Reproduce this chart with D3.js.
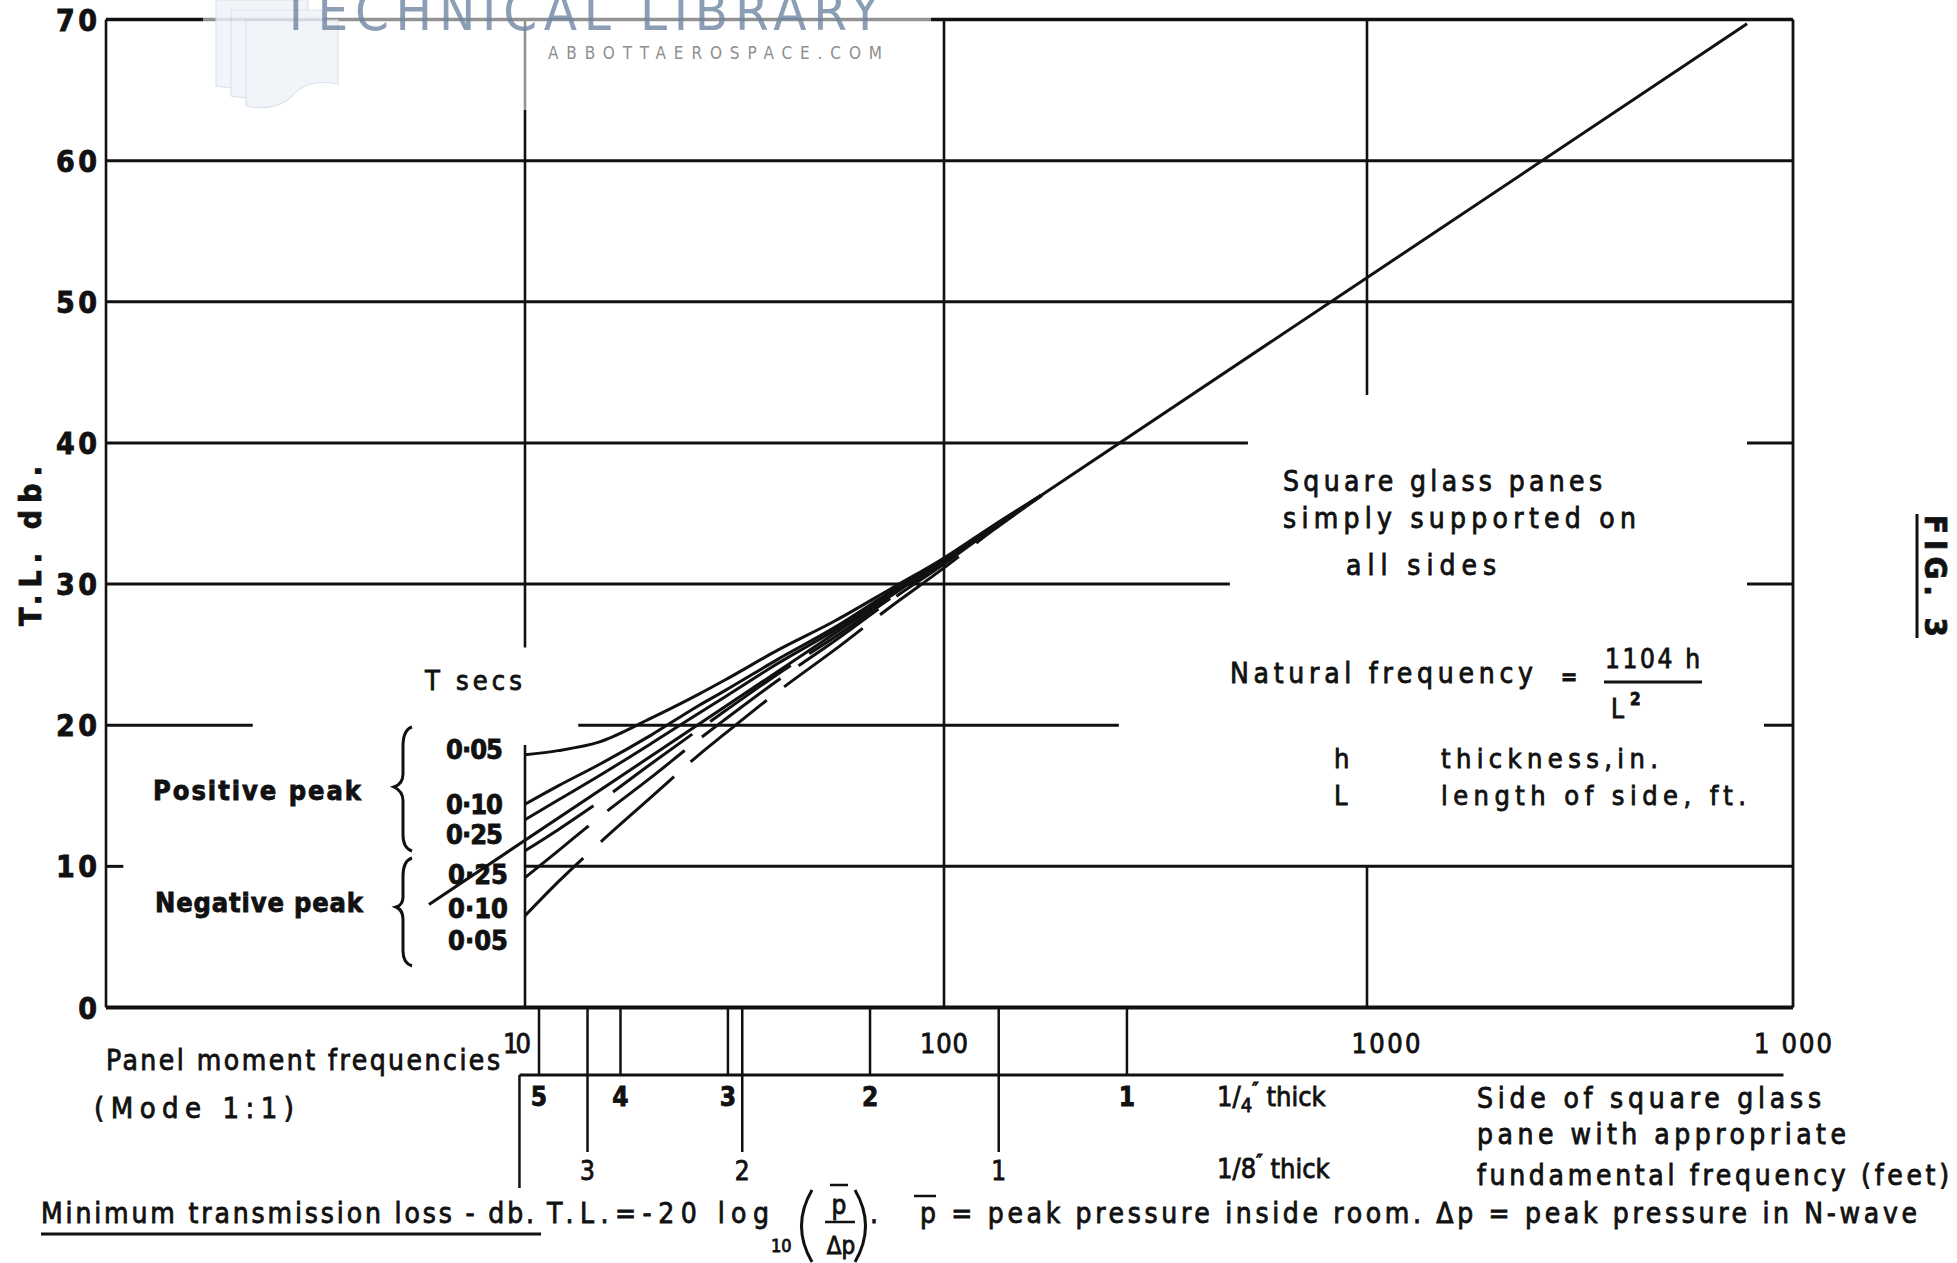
<!DOCTYPE html>
<html><head><meta charset="utf-8">
<script src="https://cdn.jsdelivr.net/npm/d3@7"></script>
<style>
body{margin:0;background:#fff}
svg{display:block}
text{font-family:"DejaVu Sans Condensed","DejaVu Sans",sans-serif;fill:#111}
text.ink{stroke:#111;stroke-width:0.8px}
</style>
</head><body>
<svg id="c" width="1957" height="1263"></svg>
<script>
// ---------------- data ----------------
const yTicks=[0,10,20,30,40,50,60,70];
const yTickLabels=["0","10","20","30","40","50","60","70"];
const xDecades=[1,10,100,1000,10000];
const xTickValues=[10,100,1000,10000];
const xTickLabels=["10","100","1000","1 000"];

// main asymptote line (frequency, T.L. db)
const mainFreq=[5.9,7800];
const mainTL=[7.3,69.7];

// T secs curves (frequency, T.L. db)
const curveFreq=[10,12,15,20,26,30,40,55,75,100,130,170];
const posPeak005=[17.9,18.2,18.8,20.5,22.2,23.2,25.3,27.4,29.7,31.85,34.1,36.3];
const posPeak010=[14.4,15.7,17.2,19.3,21.4,22.45,24.65,26.95,29.5,31.75,34.05,36.3];
const posPeak025=[13.3,14.7,16.4,18.7,20.85,22.0,24.35,26.75,29.35,31.65,34.0,36.3];
const negPeak025=[11.1,12.6,14.55,17.27,19.7,21.0,23.6,26.27,29.05,31.52,33.94,36.3];
const negPeak010=[9.2,11.1,13.45,16.3,19.0,20.4,23.15,26.0,28.9,31.42,33.9,36.3];
const negPeak005=[6.5,8.9,11.6,14.9,17.9,19.4,22.35,25.37,28.45,31.15,33.77,36.25];
const tSecsPos=["0·05","0·10","0·25"];
const tSecsNeg=["0·25","0·10","0·05"];

// glass pane side (feet) scales: frequency positions and labels
const quarterInchF=[10.8,16.9,30.5,66.6,270.7];
const quarterInchL=["5","4","3","2","1"];
const eighthInchF=[14.1,33.0,134.7];
const eighthInchL=["3","2","1"];
const scaleLineF=[9.7,9500];

// grid segments [value, from, to] in data units
const hGridSegments=[[10,1,1.1],[10,10,10000],[20,1,2.24],[20,13.4,259],[20,8550,10000],
  [30,1,474],[30,7800,10000],[40,1,523],[40,7800,10000],[50,1,10000],[60,1,10000]];
const vGridSegments=[[10,0,18.6],[10,25.5,70],[100,0,70],[1000,0,10],[1000,43.4,70]];

// ---------------- drawing ----------------
const svg=d3.select("#c");
svg.append("rect").attr("width",1957).attr("height",1263).attr("fill","#fff");

const x=d3.scaleLog().domain(xDecades).range([106,525,944,1367,1793]);
const y=d3.scaleLinear().domain([0,70]).range([1007.5,19.5]);
const ink="#111";

function T(px,py,s,o={}){
  const t=svg.append("text").attr("x",px).attr("y",py).text(s)
    .style("font-size",(o.size||26)+"px").style("font-weight",o.w||"normal")
    .attr("text-anchor",o.a||"start");
  if(!o.fill) t.attr("class","ink");
  if(o.len) t.attr("textLength",o.len).attr("lengthAdjust",o.adj||"spacing");
  if(o.rot) t.attr("transform",`rotate(${o.rot},${px},${py})`);
  if(o.fill) t.style("fill",o.fill);
  if(o.op) t.style("opacity",o.op);
  return t;
}
function L(x1,y1,x2,y2,w){svg.append("line").attr("x1",x1).attr("y1",y1).attr("x2",x2).attr("y2",y2)
  .attr("stroke",ink).attr("stroke-width",w||3);}

// grid
const g=svg.append("g").attr("stroke",ink);
g.selectAll("line.h").data(hGridSegments).join("line").attr("class","h")
  .attr("x1",d=>x(d[1])).attr("x2",d=>x(d[2])).attr("y1",d=>y(d[0])).attr("y2",d=>y(d[0]))
  .attr("stroke-width",3);
g.selectAll("line.v").data(vGridSegments).join("line").attr("class","v")
  .attr("x1",d=>x(d[0])).attr("x2",d=>x(d[0])).attr("y1",d=>y(d[1])).attr("y2",d=>y(d[2]))
  .attr("stroke-width",2.6);

// border
L(x(1),y(70),x(10000),y(70),3.5);
L(x(1),y(0),x(10000),y(0),4);
L(x(1),y(0),x(1),y(70),2.6);
L(x(10000),y(0),x(10000),y(70),2.8);

// y tick labels
yTicks.forEach((v,i)=>{
  const lab=yTickLabels[i];
  T(97,y(v)+11,lab,{size:30,w:"bold",a:"end",len:lab.length>1?41:null});
});

// x tick labels
const xLabDx=[6,0,19,0];
xTickValues.forEach((v,i)=>{
  T(x(v)+xLabDx[i],1053,xTickLabels[i],{size:27,a:i===0?"end":"middle",len:[28,48,69,78][i]});
});

// curves
const line=d3.line().x(d=>x(d[0])).y(d=>y(d[1]));
const zip=arr=>curveFreq.map((f,i)=>[f,arr[i]]);
const curveG=svg.append("g").attr("fill","none").attr("stroke",ink).attr("stroke-width",3).attr("stroke-linecap","butt");
curveG.append("path").attr("d",line(mainFreq.map((f,i)=>[f,mainTL[i]])));
const smooth=d3.line().x(d=>x(d[0])).y(d=>y(d[1])).curve(d3.curveMonotoneX);
[posPeak005,posPeak010,posPeak025].forEach(a=>curveG.append("path").attr("d",smooth(zip(a))));
[negPeak025,negPeak010,negPeak005].forEach(a=>curveG.append("path").attr("d",smooth(zip(a)))
  .attr("stroke-dasharray","82 24 98 22 98 22 98 22 98 22 98 22 98 22 98 22"));

// T secs labels and braces
T(425,690,"T secs",{size:27,len:97});
const posY=[759,814,844], negY=[884,918,950];
tSecsPos.forEach((s,i)=>T(446,posY[i],s,{size:27,w:"bold",len:57}));
tSecsNeg.forEach((s,i)=>T(448,negY[i],s,{size:27,w:"bold",len:60}));
const br=svg.append("g").attr("fill","none").attr("stroke",ink).attr("stroke-width",3);
br.append("path").attr("d","M412 727 Q403 730 403 746 L403 774 Q403 784 394 787 Q403 791 403 801 L403 835 Q403 848 412 851");
br.append("path").attr("d","M412 858 Q403 861 403 876 L403 897 Q403 905 396 907 Q403 910 403 919 L403 951 Q403 963 412 966");
T(153,800,"Positive peak",{size:27,w:"bold",len:208});
T(155,912,"Negative peak",{size:27,w:"bold",len:208});

// axis titles
T(41,546,"T.L.  db.",{size:30,w:"bold",a:"middle",rot:-90,len:160});
T(1925,576,"FIG. 3",{size:31,w:"bold",a:"middle",rot:90,len:122});
L(1917,514,1917,638,3);

// right annotations
T(1283,491,"Square glass panes",{size:28,len:319});
T(1283,528,"simply supported on",{size:28,len:353});
T(1346,575,"all sides",{size:28,len:150});
T(1230,683,"Natural frequency",{size:28,len:303});
T(1569,684,"=",{size:22,w:"bold",a:"middle"});
T(1605,668,"1104 h",{size:26,len:95});
L(1604,682,1702,682,3);
T(1611,718,"L",{size:26});
T(1630,705,"2",{size:17,w:"bold"});
T(1334,768,"h",{size:27});
T(1441,768,"thickness,in.",{size:27,len:217});
T(1334,805,"L",{size:27});
T(1441,805,"length of side, ft.",{size:27,len:305});

// bottom scales
L(x(scaleLineF[0]),1075,x(scaleLineF[1]),1075,3);
L(x(scaleLineF[0]),1075,x(scaleLineF[0]),1188,2.5);
quarterInchF.forEach((f,i)=>{L(x(f),1009,x(f),1075,2.5);T(x(f),1106,quarterInchL[i],{size:26,w:"bold",a:"middle"});});
eighthInchF.forEach((f,i)=>{L(x(f),1009,x(f),1152,2.5);T(x(f),1180,eighthInchL[i],{size:26,a:"middle"});});
T(106,1070,"Panel moment frequencies",{size:28,len:394});
T(94,1118,"(Mode  1:1)",{size:29,len:200});

const q=T(1217,1106,"1/",{size:27});
q.append("tspan").attr("dy",6).style("font-size","20px").text("4");
q.append("tspan").attr("dy",-16).style("font-size","20px").text("″");
q.append("tspan").attr("dy",10).text(" thick");
const e=T(1217,1178,"1/8",{size:27});
e.append("tspan").attr("dy",-10).style("font-size","20px").text("″");
e.append("tspan").attr("dy",10).text(" thick");
T(1477,1108,"Side of square glass",{size:28,len:344});
T(1477,1144,"pane with appropriate",{size:28,len:369});
T(1477,1185,"fundamental frequency (feet)",{size:28,len:472});

// caption
T(41,1223,"Minimum transmission loss - db.",{size:28,len:493});
L(41,1234,541,1234,3);
T(547,1223,"T.L.=-20 log",{size:28,len:222});
T(771,1252,"10",{size:18});
const pp=svg.append("g").attr("fill","none").attr("stroke",ink).attr("stroke-width",3);
pp.append("path").attr("d","M812 1190 Q791 1226 812 1262");
pp.append("path").attr("d","M855 1190 Q876 1226 855 1262");
T(839,1214,"p",{size:26,a:"middle"});
L(830,1185,848,1185,2.5);
L(825,1222,855,1222,2.5);
T(841,1254,"Δp",{size:24,a:"middle"});
T(870,1223,".",{size:28});
T(920,1223,"p = peak pressure inside room. Δp = peak pressure  in  N-wave",{size:28,len:997});
L(914,1196,936,1196,2.5);

// watermark
svg.append("rect").attr("x",203).attr("y",0).attr("width",728).attr("height",110).attr("fill","#fff").attr("opacity",0.55);
const bk=svg.append("g").attr("fill","#eef2f7").attr("stroke","#d3dde8").attr("stroke-width",1.2).attr("opacity",0.8);
[[216,0],[231,10],[246,20]].forEach(p=>bk.append("path")
  .attr("d",`M${p[0]} ${p[1]} h92 v${64} q-30 -6 -46 12 q-16 16 -46 10 z`));
T(281,30,"TECHNICAL LIBRARY",{size:54,len:599,fill:"#6f87a3",op:0.8});
T(548,59,"ABBOTTAEROSPACE.COM",{size:17,len:334,fill:"#8e8e8e"});
</script>
</body></html>
